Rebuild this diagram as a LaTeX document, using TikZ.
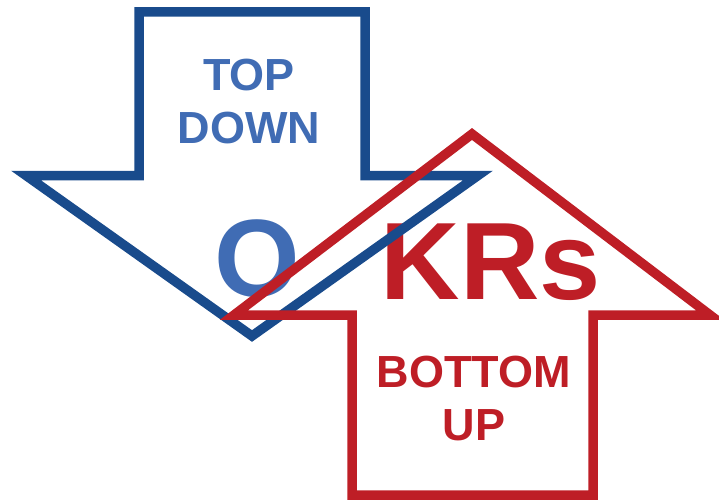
\documentclass[tikz,border=0pt]{standalone}
\usepackage{fontspec}
\setmainfont{Liberation Sans}
\definecolor{okrblue}{RGB}{25,75,140}
\definecolor{okrtext}{RGB}{64,108,180}
\definecolor{okrred}{RGB}{190,30,38}
\usetikzlibrary{positioning}

\begin{document}
\begin{tikzpicture}[x=1pt,y=-1pt,
  outline/.style={line width=9.5pt, line join=miter},
  label/.style={inner sep=0pt, font=\bfseries\fontsize{45}{53}\selectfont, align=center},
  letter/.style={inner sep=0pt, font=\bfseries\fontsize{110}{110}\selectfont}]
  \useasboundingbox (0,0) rectangle (719,500);
  % Big letters (under the outlines)
  \node[letter, text=okrtext, anchor=base] (o) at (257,296) {O};
  \node[letter, text=okrred, anchor=base] (krs) at (491,299) {KRs};
  % Down arrow: top-down
  \draw[outline, okrblue] (139,12) -- (365,12) -- (365,175.5) -- (478,175.5)
    -- (252,336) -- (26,175.5) -- (139,175.5) -- cycle;
  % Up arrow: bottom-up
  \draw[outline, okrred] (352,495) -- (593,495) -- (593,315) -- (710,315)
    -- (472,134) -- (234,315) -- (352,315) -- cycle;
  % Arrow labels (base = last line)
  \node[label, text=okrtext, anchor=base] (topdown) at (249,143) {TOP\\DOWN};
  \node[label, text=okrred, anchor=base] (bottomup) at (474,440) {BOTTOM\\UP};
\end{tikzpicture}
\end{document}
